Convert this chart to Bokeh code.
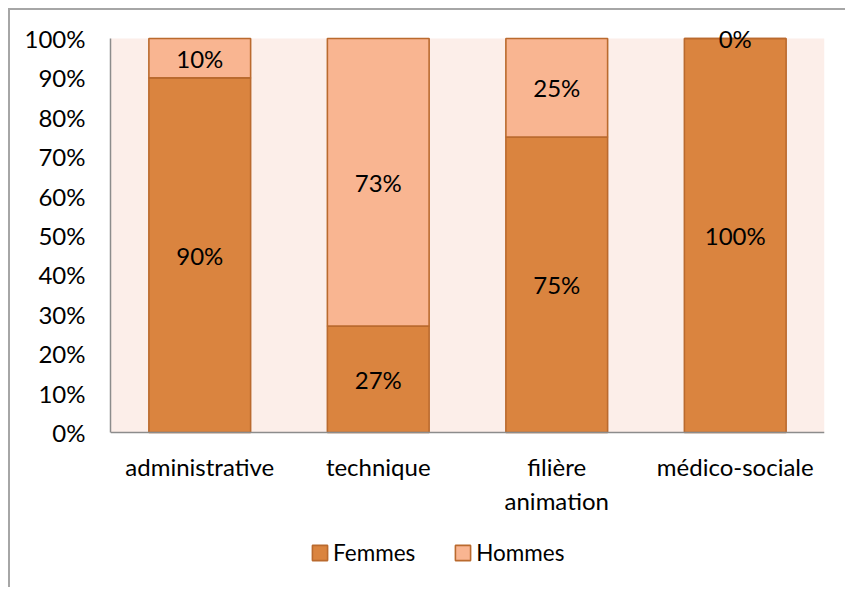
from bokeh.plotting import figure
from bokeh.models import (FactorRange, Range1d, FixedTicker, Legend, LegendItem,
                          ColumnDataSource, BoxAnnotation)
from bokeh.core.properties import value
from bokeh.embed import file_html
from bokeh.resources import INLINE

categories = ["administrative", "technique", "filière animation", "médico-sociale"]
femmes = [90, 27, 75, 100]
hommes = [10, 73, 25, 0]
series = ["Femmes", "Hommes"]
y_ticks = [0, 10, 20, 30, 40, 50, 60, 70, 80, 90, 100]
y_tick_labels = ["0%", "10%", "20%", "30%", "40%", "50%", "60%", "70%", "80%", "90%", "100%"]

FONT = "Lato"
FS = "24px"
C_F = "#DA843F"
C_H = "#F9B591"
C_EDGE = "#BA6A2E"
C_BG = "#FCEEE9"

factors = [c.replace(" ", "\n") for c in categories]

src = ColumnDataSource(dict(
    cat=factors,
    Femmes=femmes,
    Hommes=hommes,
    f_mid=[f / 2 for f in femmes],
    h_mid=[f + h / 2 for f, h in zip(femmes, hommes)],
    f_lbl=[f"{f}%" for f in femmes],
    h_lbl=[f"{h}%" for h in hommes],
))

# frame: 394 px per 100 %, extended above 100 and below 0 (legend area)
PX_PER_UNIT = 3.94
H_CANVAS, TOP, GAP_TOP = 579, 8, 20
frame_h = H_CANVAS - TOP
y_high = 100 + GAP_TOP / PX_PER_UNIT
y_low = y_high - frame_h / PX_PER_UNIT

p = figure(
    x_range=FactorRange(*factors),
    y_range=Range1d(y_low, y_high),
    width=837, height=H_CANVAS,
    min_border_left=100, min_border_right=23,
    min_border_top=TOP, min_border_bottom=0,
    output_backend="svg", toolbar_location=None,
    background_fill_color="white",
    border_fill_color="white",
    styles={"margin-left": "8px", "margin-top": "8px",
            "border-left": "2px solid #A6A6A6", "border-top": "2px solid #A6A6A6"},
)
p.outline_line_color = None
p.xgrid.grid_line_color = None
p.ygrid.grid_line_color = None

p.add_layout(BoxAnnotation(bottom=0, top=100, fill_color=C_BG, fill_alpha=1,
                           line_color=None, level="underlay"))

rs = p.vbar_stack(series, x="cat", width=0.57, source=src,
                  fill_color=[C_F, C_H], line_color=C_EDGE, line_width=1.6)

p.text(x="cat", y="f_mid", text="f_lbl", source=src, text_align="center",
       text_baseline="middle", text_font=value(FONT), text_font_size=FS, text_color="black")
p.text(x="cat", y="h_mid", text="h_lbl", source=src, text_align="center",
       text_baseline="middle", text_font=value(FONT), text_font_size=FS, text_color="black")

p.yaxis.ticker = FixedTicker(ticks=y_ticks)
p.yaxis.major_label_overrides = {t: l for t, l in zip(y_ticks, y_tick_labels)}
p.yaxis.bounds = (0, 100)
p.xaxis.fixed_location = 0
for ax in (p.xaxis, p.yaxis):
    ax.axis_line_color = "#8C8C8C"
    ax.axis_line_width = 1.5
    ax.major_tick_line_color = None
    ax.minor_tick_line_color = None
    ax.major_label_text_font = FONT
    ax.major_label_text_font_size = FS
    ax.major_label_text_color = "black"
p.yaxis.major_label_standoff = 19
p.xaxis.major_label_standoff = 13

legend = Legend(
    items=[LegendItem(label=s, renderers=[r]) for s, r in zip(series, rs)],
    orientation="horizontal", location=(200, 23),
    border_line_color=None, background_fill_alpha=0,
    padding=0, margin=0, spacing=38, label_standoff=4,
    glyph_width=19, glyph_height=19,
    label_text_font=FONT, label_text_font_size="22.5px", label_text_color="black",
)
p.add_layout(legend)

open("out.html", "w").write(file_html(p, INLINE))
